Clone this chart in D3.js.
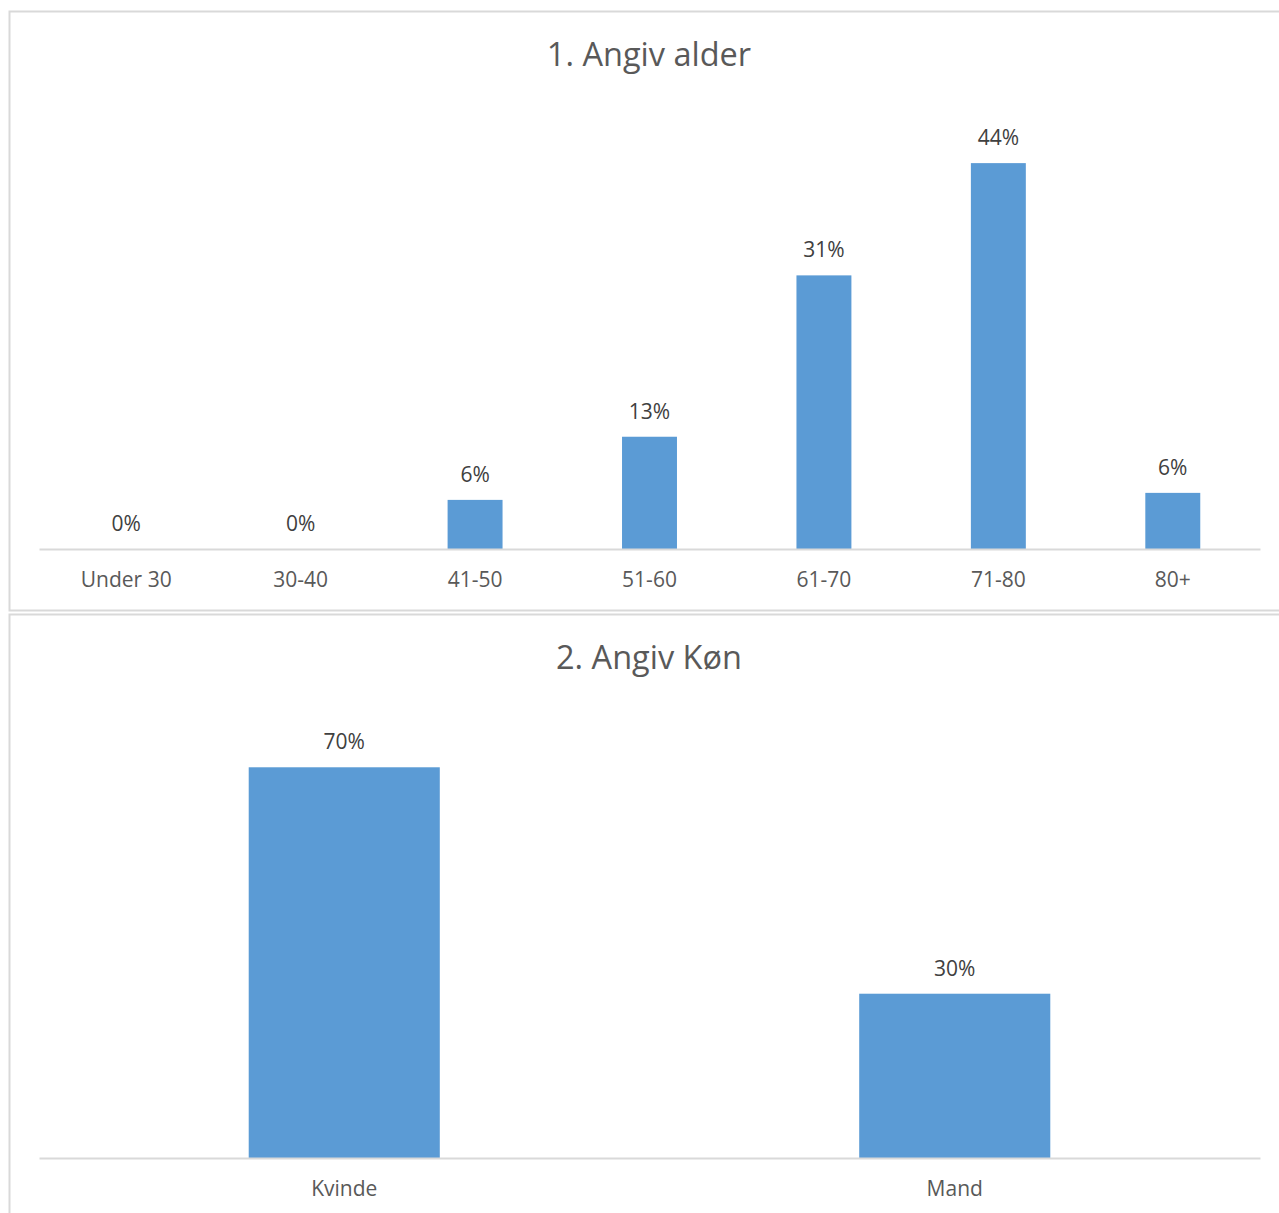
<!DOCTYPE html>
<html><head><meta charset="utf-8">
<script src="https://cdn.jsdelivr.net/npm/d3@7"></script>
<style>body{margin:0;background:#fff;}svg{display:block;font-family:"Open Sans",sans-serif;}</style>
</head><body>
<svg id="c" width="1279" height="1213"></svg>
<script>
// Chart 1: age
const ageCategories = ["Under 30","30-40","41-50","51-60","61-70","71-80","80+"];
const ageValues = [0, 0, 5.6, 12.8, 31.2, 44.0, 6.4];
const ageLabels = ["0%","0%","6%","13%","31%","44%","6%"];
// Chart 2: gender
const genderCategories = ["Kvinde","Mand"];
const genderValues = [70.4, 29.6];
const genderLabels = ["70%","30%"];

const svg = d3.select("#c");
const barColor = "#5B9BD5";

function drawChart(cfg){
  const g = svg.append("g");
  g.append("rect").attr("x",cfg.box[0]+0.5).attr("y",cfg.box[1]+0.5)
    .attr("width",cfg.box[2]).attr("height",cfg.box[3])
    .attr("fill","#fff").attr("stroke","#D9D9D9").attr("stroke-width",2);
  g.append("text").attr("x",cfg.titleX).attr("y",cfg.titleY).attr("text-anchor","middle")
    .attr("font-size",32.5).attr("fill","#595959").text(cfg.title);
  const x = d3.scaleBand().domain(cfg.cats).range([39,1260]).paddingInner(cfg.pad).paddingOuter(cfg.pad/2);
  const y = d3.scaleLinear().domain([0,cfg.max]).range([cfg.base, cfg.top]);
  g.selectAll("rect.bar").data(cfg.vals).join("rect").attr("class","bar")
    .attr("x",(d,i)=>x(cfg.cats[i])).attr("width",x.bandwidth())
    .attr("y",d=>y(d)).attr("height",d=>cfg.base-y(d)).attr("fill",barColor);
  g.selectAll("text.dl").data(cfg.vals).join("text").attr("class","dl")
    .attr("x",(d,i)=>x(cfg.cats[i])+x.bandwidth()/2).attr("y",d=>y(d)-18)
    .attr("text-anchor","middle").attr("font-size",21).attr("fill","#404040")
    .text((d,i)=>cfg.labels[i]);
  const ax = g.append("g").attr("transform",`translate(0,${cfg.base})`)
    .call(d3.axisBottom(x).tickSize(0).tickPadding(23));
  ax.select(".domain").attr("stroke","#D9D9D9").attr("stroke-width",2);
  ax.selectAll("text").attr("font-size",21).attr("fill","#595959").attr("font-family","Open Sans, sans-serif")
    .attr("y",38).attr("dy",null);
}

drawChart({box:[9,11,1290,599], title:"1. Angiv alder", titleX:649, titleY:66,
  cats:ageCategories, vals:ageValues, labels:ageLabels, pad:0.685, max:50, base:549, top:110.5});
drawChart({box:[9,614,1290,620], title:"2. Angiv Køn", titleX:649, titleY:669,
  cats:genderCategories, vals:genderValues, labels:genderLabels, pad:0.687, max:80, base:1158, top:714});
</script>
</body></html>
